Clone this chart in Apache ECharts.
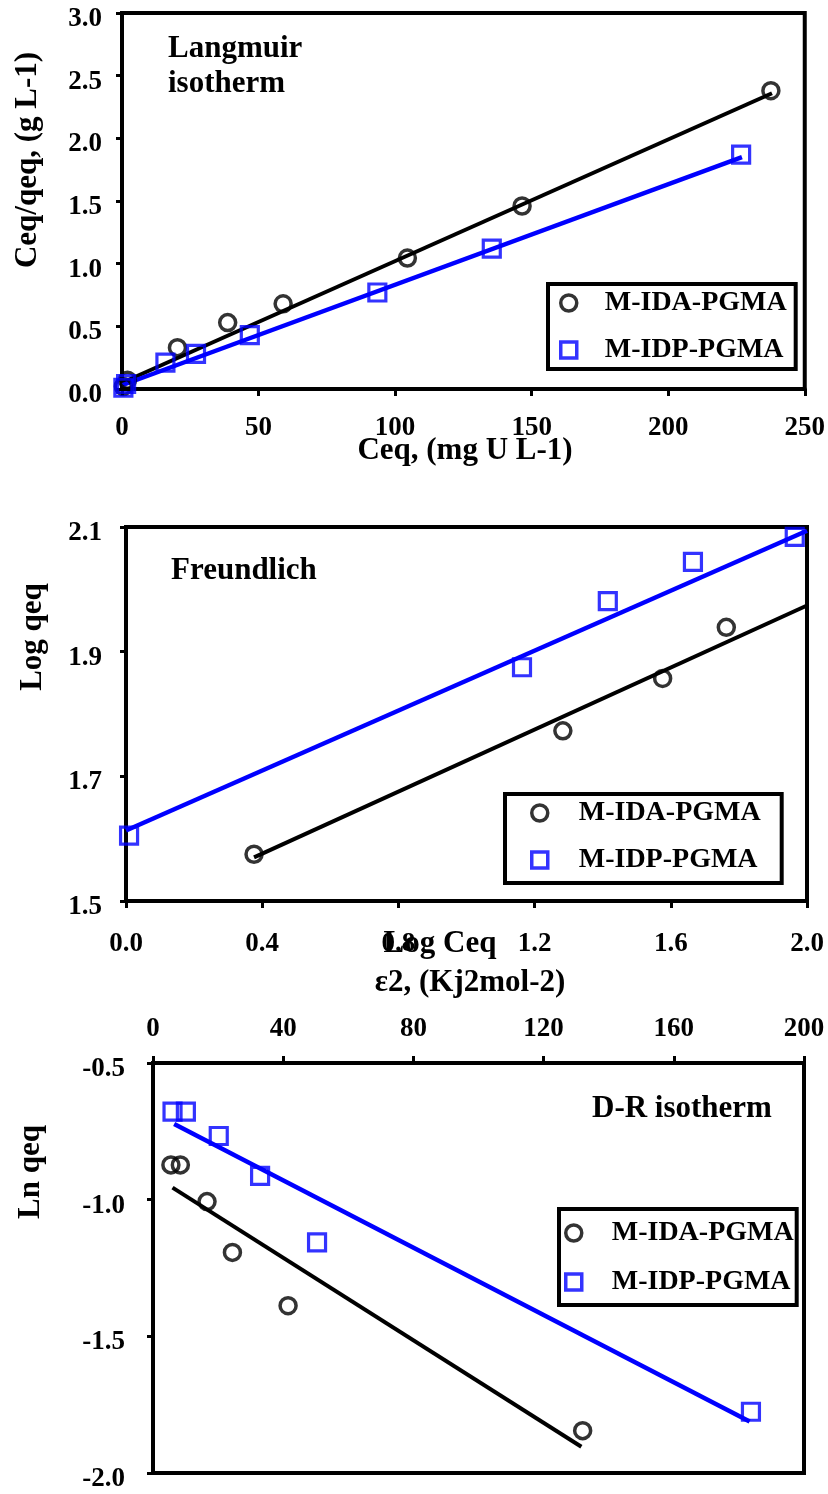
<!DOCTYPE html>
<html>
<head>
<meta charset="utf-8">
<script src="https://cdn.jsdelivr.net/npm/echarts@6/dist/echarts.min.js"></script>
<style>html,body{margin:0;padding:0;background:#fff;}#c{width:828px;height:1494px;}</style>
</head>
<body>
<div id="c"></div>
<script>
// ---------- DATA ----------
// Panel 1: Langmuir  (Ceq, Ceq/qeq)
const langIDA = [[0.5,0.02],[2,0.07],[20.3,0.33],[38.7,0.53],[59,0.68],[104.5,1.045],[146.5,1.46],[237.6,2.38]];
const langIDP = [[0.5,0.01],[1.5,0.04],[15.9,0.21],[27.1,0.28],[46.8,0.43],[93.5,0.77],[135.4,1.12],[226.7,1.87]];
const langFitIDA = [[0,0.05],[238,2.36]];
const langFitIDP = [[0,0.03],[227,1.85]];
// Panel 2: Freundlich (Log Ceq, Log qeq)
const freuIDA = [[0.376,1.575],[1.283,1.773],[1.576,1.857],[1.763,1.939]];
const freuIDP = [[0.009,1.605],[1.163,1.875],[1.415,1.981],[1.665,2.044],[1.964,2.084]];
const freuFitIDA = [[0.376,1.570],[2.0,1.974]];
const freuFitIDP = [[0.0,1.613],[2.0,2.094]];
// Panel 3: D-R (eps^2, Ln qeq)
const drIDA = [[5.5,-0.873],[8.4,-0.873],[16.6,-1.007],[24.4,-1.193],[41.5,-1.388],[132.0,-1.845]];
const drIDP = [[6.0,-0.678],[10.1,-0.678],[20.2,-0.767],[32.9,-0.913],[50.4,-1.156],[183.7,-1.776]];
const drFitIDA = [[6.0,-0.956],[131.6,-1.904]];
const drFitIDP = [[6.5,-0.723],[183.3,-1.812]];
// Axis ranges / ticks
const ax1x = {min:0,max:250,interval:50};
const ax1y = {min:0,max:3.0,interval:0.5};
const ax2x = {min:0,max:2.0,interval:0.4};
const ax2y = {min:1.5,max:2.1,interval:0.2};
const ax3x = {min:0,max:200,interval:40};
const ax3y = {min:-2.0,max:-0.5,interval:0.5};
const seriesNames = ['M-IDA-PGMA','M-IDP-PGMA'];

// ---------- STYLE ----------
const FF = '"Liberation Serif","Times New Roman",serif';
const BLUE = '#0000ff';
const TICK = 27;
const chart = echarts.init(document.getElementById('c'), null, {renderer:'canvas'});

function lbl(extra){
  return Object.assign({fontFamily:FF, fontWeight:'bold', fontSize:TICK, color:'#000'}, extra||{});
}
function xAxis(idx, r, labelExtra, opts){
  return Object.assign({
    gridIndex: idx, type:'value', min:r.min, max:r.max, interval:r.interval,
    axisLine:{show:true, onZero:false, lineStyle:{color:'#000', width:4}},
    axisTick:{show:true, inside:false, length:7, lineStyle:{color:'#000', width:3}},
    splitLine:{show:false},
    axisLabel:lbl(labelExtra)
  }, opts||{});
}
function yAxis(idx, r, dec, margin){
  return {
    gridIndex: idx, type:'value', min:r.min, max:r.max, interval:r.interval,
    axisLine:{show:true, onZero:false, lineStyle:{color:'#000', width:4}},
    axisTick:{show:true, inside:false, length:6, lineStyle:{color:'#000', width:3}},
    splitLine:{show:false},
    axisLabel:lbl({margin:margin, verticalAlign:'top', lineHeight:12, formatter:v=>v.toFixed(dec)})
  };
}
function scat(name, idx, data, sym){
  const isC = sym==='circle';
  return {name, type:'scatter', xAxisIndex:idx, yAxisIndex:idx, data, symbol:sym,
    symbolSize: isC?16:17, clip:false, z:5,
    itemStyle:{color:'rgba(255,255,255,0)', borderColor: isC?'#000':BLUE, borderWidth: isC?3.5:3.2}};
}
function fit(name, idx, data, color, w){
  return {name, type:'line', xAxisIndex:idx, yAxisIndex:idx, data, symbol:'none', z:3,
    lineStyle:{color, width:w}, clip:false, silent:true};
}
function legend(left, top, pad, gap, tpad){
  return {orient:'vertical', left, top, padding:pad, itemGap:gap,
    itemWidth:16, itemHeight:16, borderColor:'#000', borderWidth:4, backgroundColor:'#fff',
    textStyle:{fontFamily:FF, fontWeight:'bold', fontSize:28, lineHeight:28, color:'#000', padding:[0,0,0,tpad]},
    data:[
      {name:seriesNames[0], icon:'circle', itemStyle:{color:'#fff', borderColor:'#000', borderWidth:3.5}},
      {name:seriesNames[1], icon:'rect', itemStyle:{color:'#fff', borderColor:BLUE, borderWidth:3.5}}
    ]};
}
function txt(text, x, y, size, align, vAlign, rot){
  return {type:'text', x, y, rotation: rot||0, z:100,
    style:{text, font:'bold '+size+'px '+FF, fill:'#000', align, verticalAlign:vAlign}};
}

const gridStyle = {show:true, borderColor:'#000', borderWidth:4, backgroundColor:'transparent', containLabel:false};

const option = {
  backgroundColor:'#fff',
  animation:false,
  grid:[
    Object.assign({left:122, top:13, width:686, height:376}, gridStyle),
    Object.assign({left:126, top:527, width:681, height:374}, gridStyle),
    Object.assign({left:153, top:1063, width:651, height:410}, gridStyle)
  ],
  xAxis:[
    xAxis(0, ax1x, {margin:26}),
    xAxis(1, ax2x, {margin:30, formatter:v=>v.toFixed(1)}),
    xAxis(2, ax3x, {margin:20}, {position:'top'})
  ],
  yAxis:[
    yAxis(0, ax1y, 1, 20),
    yAxis(1, ax2y, 1, 24),
    yAxis(2, ax3y, 1, 28)
  ],
  legend:[
    legend(548, 284, [5,9,5,11], 19, 23),
    legend(505, 794, [5,21,9,25], 19, 26),
    legend(559, 1209, [10,3,9,5], 21, 25)
  ],
  series:[
    fit('fit1a',0,langFitIDA,'#000',4), fit('fit1b',0,langFitIDP,BLUE,4.5),
    scat(seriesNames[0],0,langIDA,'circle'), scat(seriesNames[1],0,langIDP,'rect'),
    fit('fit2a',1,freuFitIDA,'#000',4), fit('fit2b',1,freuFitIDP,BLUE,4.5),
    scat(seriesNames[0],1,freuIDA,'circle'), scat(seriesNames[1],1,freuIDP,'rect'),
    fit('fit3a',2,drFitIDA,'#000',4), fit('fit3b',2,drFitIDP,BLUE,4.5),
    scat(seriesNames[0],2,drIDA,'circle'), scat(seriesNames[1],2,drIDP,'rect')
  ],
  graphic:[
    txt('Ceq/qeq, (g L-1)', 28, 160, 31, 'center', 'middle', Math.PI/2),
    txt('Ceq, (mg U L-1)', 465, 451, 31, 'center', 'middle'),
    txt('Langmuir', 168, 64, 31, 'left', 'bottom'),
    txt('isotherm', 168, 99, 31, 'left', 'bottom'),
    txt('Log qeq', 33, 637, 31, 'center', 'middle', Math.PI/2),
    txt('Log Ceq', 440, 944, 31, 'center', 'middle'),
    txt('Freundlich', 171, 586, 31, 'left', 'bottom'),
    txt('ε2, (Kj2mol-2)', 470, 983, 31, 'center', 'middle'),
    txt('Ln qeq', 31, 1172, 31, 'center', 'middle', Math.PI/2),
    txt('D-R isotherm', 592, 1124, 31, 'left', 'bottom')
  ]
};
chart.setOption(option);
</script>
</body>
</html>
